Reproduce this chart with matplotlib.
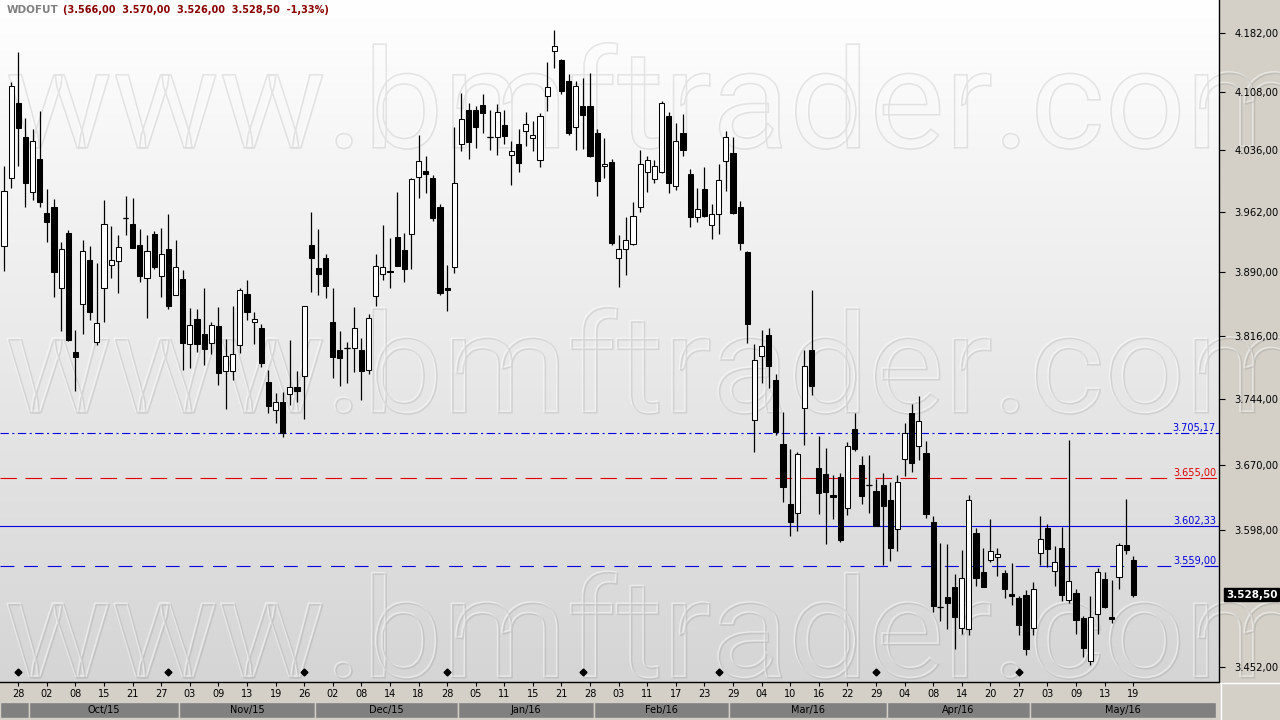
import matplotlib
matplotlib.use("Agg")
import matplotlib.pyplot as plt
import matplotlib.transforms as mtransforms
from matplotlib.patches import PathPatch, Rectangle
from matplotlib.lines import Line2D
from matplotlib.textpath import TextPath
from matplotlib.font_manager import FontProperties
from matplotlib.ticker import NullLocator
import numpy as np

# daily WDOFUT candles, 24/Sep/15 .. 19/May/16
opens = [3921, 4003, 4094, 4052, 3986, 4025, 3960, 3967, 3872, 3936,
	3797, 3853, 3905, 3809, 3872, 3898, 3903, 3954, 3947, 3922,
	3883, 3935, 3886, 3917, 3863, 3882, 3807, 3835, 3818, 3808,
	3827, 3775, 3775, 3805, 3865, 3832, 3825, 3763, 3731, 3740,
	3749, 3757, 3770, 3922, 3895, 3907, 3832, 3799, 3802, 3802,
	3799, 3777, 3862, 3888, 3892, 3932, 3916, 3935, 4004, 4011,
	4002, 3967, 3871, 3896, 4044, 4086, 4086, 4092, 4053, 4052,
	4067, 4031, 4044, 4060, 4051, 4024, 4103, 4159, 4148, 4122,
	4065, 4091, 4091, 4057, 4017, 4022, 3907, 3918, 3923, 3968,
	4010, 4001, 4010, 4078, 3993, 4057, 4007, 3956, 3989, 3946,
	3959, 4023, 4033, 3967, 3914, 3720, 3793, 3817, 3765, 3693,
	3627, 3617, 3734, 3799, 3666, 3660, 3636, 3656, 3622, 3710,
	3670, 3647, 3641, 3648, 3631, 3599, 3676, 3728, 3691, 3683,
	3607, 3515, 3526, 3537, 3493, 3492, 3595, 3553, 3566, 3569,
	3552, 3529, 3525, 3528, 3493, 3573, 3600, 3554, 3579, 3523,
	3530, 3504, 3458, 3508, 3545, 3505, 3547, 3582, 3566]
highs = [4017, 4120, 4158, 4076, 4062, 4085, 3989, 3977, 3926, 3940,
	3823, 3928, 3921, 3901, 3976, 3945, 3934, 3981, 3978, 3941,
	3934, 3939, 3942, 3959, 3928, 3893, 3848, 3847, 3872, 3832,
	3849, 3812, 3851, 3872, 3881, 3843, 3829, 3777, 3750, 3752,
	3811, 3775, 3851, 3962, 3941, 3912, 3872, 3822, 3809, 3849,
	3813, 3841, 3912, 3946, 3931, 3985, 3936, 4002, 4055, 4029,
	4006, 3971, 3898, 4065, 4107, 4095, 4091, 4106, 4086, 4093,
	4086, 4047, 4062, 4083, 4072, 4082, 4145, 4186, 4149, 4130,
	4122, 4126, 4132, 4062, 4051, 4026, 3934, 3956, 3974, 4037,
	4029, 4024, 4097, 4083, 4070, 4081, 4014, 3990, 4016, 3971,
	4020, 4060, 4053, 3975, 3915, 3806, 3823, 3825, 3772, 3729,
	3687, 3684, 3799, 3869, 3702, 3688, 3658, 3661, 3695, 3728,
	3680, 3681, 3654, 3661, 3651, 3658, 3716, 3738, 3747, 3696,
	3613, 3584, 3583, 3551, 3576, 3636, 3600, 3579, 3610, 3579,
	3555, 3562, 3527, 3533, 3542, 3613, 3605, 3581, 3601, 3698,
	3534, 3506, 3527, 3557, 3553, 3544, 3584, 3632, 3570]
lows = [3892, 3990, 4017, 3967, 3976, 3967, 3926, 3861, 3821, 3810,
	3753, 3818, 3834, 3805, 3832, 3883, 3866, 3934, 3919, 3879,
	3836, 3894, 3861, 3847, 3863, 3777, 3779, 3797, 3782, 3795,
	3759, 3732, 3765, 3796, 3834, 3806, 3780, 3728, 3716, 3701,
	3737, 3740, 3721, 3867, 3863, 3860, 3768, 3758, 3762, 3774,
	3742, 3772, 3851, 3881, 3871, 3897, 3878, 3894, 3978, 3984,
	3951, 3863, 3845, 3889, 4035, 4025, 4039, 4057, 4036, 4030,
	4044, 3994, 4010, 4042, 4035, 4016, 4085, 4138, 4105, 4055,
	4036, 4038, 4028, 3981, 4003, 3922, 3873, 3887, 3922, 3961,
	3986, 3997, 4008, 3984, 3988, 4029, 3944, 3949, 3955, 3929,
	3935, 3987, 3959, 3916, 3808, 3684, 3762, 3756, 3703, 3629,
	3592, 3597, 3692, 3748, 3616, 3583, 3610, 3585, 3614, 3685,
	3627, 3617, 3602, 3560, 3565, 3575, 3657, 3662, 3675, 3611,
	3510, 3500, 3492, 3471, 3487, 3486, 3538, 3537, 3564, 3548,
	3525, 3517, 3486, 3465, 3486, 3560, 3558, 3538, 3522, 3519,
	3487, 3463, 3454, 3487, 3514, 3498, 3535, 3572, 3526]
closes = [3987, 4116, 4063, 3997, 4048, 3974, 3950, 3890, 3918, 3811,
	3792, 3915, 3843, 3831, 3947, 3905, 3920, 3954, 3919, 3885,
	3915, 3896, 3911, 3851, 3896, 3808, 3828, 3807, 3801, 3828,
	3773, 3793, 3795, 3869, 3844, 3835, 3785, 3736, 3740, 3705,
	3757, 3753, 3851, 3907, 3888, 3874, 3791, 3790, 3802, 3825,
	3776, 3836, 3897, 3896, 3890, 3897, 3894, 4001, 4023, 4007,
	3954, 3866, 3869, 3996, 4074, 4046, 4065, 4082, 4053, 4083,
	4054, 4035, 4021, 4068, 4055, 4078, 4114, 4166, 4109, 4057,
	4115, 4079, 4029, 3999, 4020, 3925, 3918, 3928, 3957, 4020,
	4024, 4017, 4095, 3997, 4048, 4037, 3956, 3965, 3957, 3959,
	4000, 4053, 3960, 3924, 3830, 3788, 3804, 3781, 3706, 3645,
	3607, 3682, 3781, 3758, 3639, 3640, 3634, 3587, 3691, 3687,
	3635, 3647, 3602, 3624, 3579, 3651, 3705, 3672, 3719, 3616,
	3516, 3515, 3520, 3505, 3546, 3631, 3546, 3537, 3575, 3572,
	3535, 3527, 3496, 3471, 3535, 3588, 3578, 3563, 3528, 3543,
	3501, 3472, 3505, 3553, 3515, 3503, 3582, 3576, 3528.5]

day_labels = ["28", "02", "08", "15", "21", "27", "03", "09", "13", "19",
	"26", "02", "08", "14", "18", "28", "05", "11", "15", "21",
	"28", "03", "11", "17", "23", "29", "04", "10", "16", "22",
	"29", "04", "08", "14", "20", "27", "03", "09", "13", "19"]
months = ["", "Oct/15", "Nov/15", "Dec/15", "Jan/16", "Feb/16", "Mar/16", "Apr/16", "May/16"]
month_edges = [-0.56, 3.5, 24.5, 43.5, 63.5, 82.5, 101.5, 123.5, 143.5, 169.6]
expiry_idx = [2, 23, 42, 62, 81, 100, 122, 142]

levels = [3705.17, 3655.00, 3602.33, 3559.00]
level_colors = ["#0000e0", "#e00000", "#0000e0", "#0000e0"]
level_styles = [(0, (6, 2.5, 1.5, 2.5)), (0, (12, 6)), "-", (0, (10, 7))]

price_ticks = [4182, 4108, 4036, 3962, 3890, 3816, 3744, 3670, 3598, 3452]


def br(v):
	s = "{:,.2f}".format(v)
	return s.replace(",", "X").replace(".", ",").replace("X", ".")


def main():
	plt.rcParams["lines.scale_dashes"] = False
	fig = plt.figure(figsize=(12.8, 7.2), dpi=100, facecolor="#d4d0c8")
	rect = [0, 38 / 720, 1219 / 1280, 682 / 720]

	# gradient background of the price pane
	bg = fig.add_axes(rect, zorder=0)
	grad = np.linspace(1.0, 0.835, 256)[:, None]
	bg.imshow(np.dstack([grad, grad, grad]), aspect="auto", extent=[0, 1, 0, 1], origin="upper")
	bg.set_xlim(0, 1)
	bg.set_ylim(0, 1)
	bg.axis("off")

	# watermark, in pixel units over the whole figure
	wm = fig.add_axes([0, 0, 1, 1], zorder=0.5)
	wm.set_xlim(0, 1280)
	wm.set_ylim(720, 0)
	wm.axis("off")
	tp = TextPath((0, 0), "www.bmftrader.com", size=100,
		prop=FontProperties(family="Roboto"))
	ext = tp.get_extents()
	sx = 1292 / ext.width
	sy = 105 / ext.y1
	for base in (147, 412, 677):
		for dx, col in ((-0.8, (1, 1, 1, 0.45)), (0.7, (0, 0, 0, 0.085))):
			tr = mtransforms.Affine2D().translate(-ext.x0, 0).scale(sx, -sy).translate(8 + dx, base + dx)
			wm.add_patch(PathPatch(tr.transform_path(tp), fc="none", ec=col, lw=1.2))

	ax = fig.add_axes(rect, zorder=1)
	ax.patch.set_alpha(0)
	ax.set_yscale("log")

	o = np.array(opens, dtype=float)
	h = np.array(highs, dtype=float)
	l = np.array(lows, dtype=float)
	c = np.array(closes, dtype=float)
	x = np.arange(len(o))
	up = c >= o

	ax.vlines(x, l, h, color="black", lw=0.9, zorder=2)
	ax.bar(x, np.abs(c - o), bottom=np.minimum(o, c), width=0.72,
		color=np.where(up, "white", "black"), edgecolor="black", linewidth=0.75, zorder=3)
	doji = c == o
	ax.hlines(o[doji], x[doji] - 0.4, x[doji] + 0.4, color="black", lw=0.9, zorder=3)

	yblend = mtransforms.blended_transform_factory(ax.transAxes, ax.transData)
	for val, col, ls in zip(levels, level_colors, level_styles):
		ax.axhline(val, color=col, lw=0.8, linestyle=ls, zorder=1.5)
		ax.text(0.9975, val, br(val), transform=yblend, ha="right", va="bottom",
			color=col, fontsize=7, zorder=4)

	xblend = mtransforms.blended_transform_factory(ax.transData, ax.transAxes)
	ax.plot(expiry_idx, [0.0147] * len(expiry_idx), transform=xblend, ls="none",
		marker="D", ms=3.5, color="black", clip_on=False, zorder=4)

	ax.set_xlim(-0.56, 170.0)
	ax.set_ylim(3436.4, 4224.0)

	ax.yaxis.tick_right()
	ax.yaxis.set_minor_locator(NullLocator())
	ax.set_yticks(price_ticks)
	ax.set_yticklabels([br(v) for v in price_ticks])
	ax.tick_params(axis="y", length=4, width=0.8, pad=7, labelsize=7.2, direction="out", colors="black")

	ax.set_xticks(np.arange(2, len(o), 4))
	ax.set_xticklabels(day_labels)
	ax.tick_params(axis="x", length=3, width=0.8, pad=2, labelsize=7, direction="out")

	for side in ("top", "left"):
		ax.spines[side].set_visible(False)
	for side in ("right", "bottom"):
		ax.spines[side].set_color("black")
		ax.spines[side].set_linewidth(1.0)

	# last price tag
	ax.text(1.0058, c[-1], br(c[-1]), transform=yblend, ha="left", va="center", color="white",
		weight="bold", fontsize=7.5, clip_on=False, zorder=5,
		bbox=dict(boxstyle="square,pad=0.18", fc="black", ec="black"))

	# month strip
	mblend = mtransforms.blended_transform_factory(ax.transData, fig.transFigure)
	for i, name in enumerate(months):
		x0, x1 = month_edges[i], month_edges[i + 1]
		fig.add_artist(Rectangle((x0, 2 / 720), x1 - x0, 16 / 720, transform=mblend,
			fc="#808080", ec="#d4d0c8", lw=1.0))
		if name:
			fig.add_artist(plt.Text((x0 + x1) / 2, 10 / 720, name, transform=mblend,
				ha="center", va="center", fontsize=7, color="#000000"))

	fig.add_artist(Line2D([1220 / 1280, 1], [37 / 720, 37 / 720], color="white", lw=1, transform=fig.transFigure))
	fig.add_artist(Line2D([1221 / 1280, 1221 / 1280], [0, 37 / 720], color="white", lw=1, transform=fig.transFigure))

	pct = (c[-1] / c[-2] - 1) * 100
	head = "(%s  %s  %s  %s  %s%%)" % (br(o[-1]), br(h[-1]), br(l[-1]), br(c[-1]),
		("%.2f" % pct).replace(".", ","))
	fig.text(7 / 1280, 1 - 10 / 720, "WDOFUT", color="#808080", weight="bold", fontsize=7.5, va="center")
	fig.text(63 / 1280, 1 - 10 / 720, head, color="#8b0000", weight="bold", fontsize=7, va="center")

	plt.savefig("out.png", dpi=100, facecolor=fig.get_facecolor())


if __name__ == "__main__": main()
